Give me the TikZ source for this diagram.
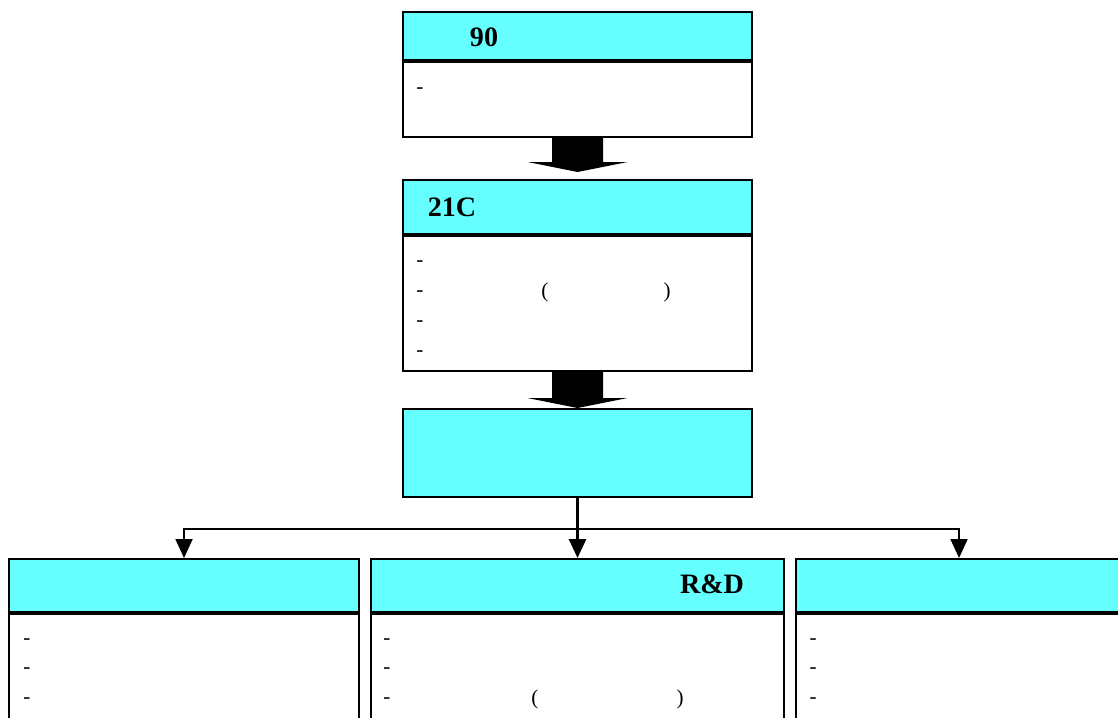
\documentclass[tikz,border=0pt]{standalone}
\usepackage{fontspec}
\setmainfont{Liberation Serif}
\usepackage{xcolor}
\definecolor{dnlam}{HTML}{66FFFF}
\def\maunen{dnlam}
\def\mauvien{black}
\usetikzlibrary{shapes,calc,arrows.meta}

\begin{document}
\begin{tikzpicture}[x=0.02cm,y=-0.02cm,line width=1.2pt,
	dau/.style={draw=\mauvien,fill=\maunen,anchor=north west,inner sep=0pt},
	than/.style={draw=\mauvien,fill=white,anchor=north west,inner sep=0pt},
	chudam/.style={font=\fontsize{16}{19}\selectfont\bfseries,inner sep=0pt},
	chu/.style={font=\fontsize{12}{14}\selectfont,inner sep=0pt},
	muiten/.style={-{Triangle[width=0.34cm,length=0.38cm]},line width=1.1pt}]
		\useasboundingbox (0,0) rectangle (1118,717);
		\clip (0,0) rectangle (1118,717);
		\path (402,11) node (d1) [dau,minimum width=6.98cm,minimum height=0.96cm] {};
		\path (d1.south west) node (k1) [than,minimum width=6.98cm,minimum height=1.5cm] {};
		\path (402,179) node (d2) [dau,minimum width=6.98cm,minimum height=1.08cm] {};
		\path (d2.south west) node (k2) [than,minimum width=6.98cm,minimum height=2.7cm] {};
		\path (402,408) node (o3) [dau,minimum width=6.98cm,minimum height=1.76cm] {};
		\path (8,558) node (hl) [dau,minimum width=7cm,minimum height=1.06cm] {}
		(370,558) node (hm) [dau,minimum width=8.26cm,minimum height=1.06cm] {}
		(795,558) node (hr) [dau,minimum width=6.52cm,minimum height=1.06cm] {};
		\path (hl.south west) node (bl) [than,minimum width=7cm,minimum height=3cm] {}
		(hm.south west) node (bm) [than,minimum width=8.26cm,minimum height=3cm] {}
		(hr.south west) node (br) [than,minimum width=6.52cm,minimum height=3cm] {};
		
		\fill[\mauvien] ($(k1.south)+(-25.5,0)$) -- ($(k1.south)+(25.5,0)$) -- ($(d2.north)+(25.5,-17)$) -- ($(d2.north)+(50,-17)$) -- ($(d2.north)+(0,-7)$) -- ($(d2.north)+(-50,-17)$) -- ($(d2.north)+(-25.5,-17)$) -- cycle;
		\fill[\mauvien] ($(k2.south)+(-25.5,0)$) -- ($(k2.south)+(25.5,0)$) -- ($(o3.north)+(25.5,-10)$) -- ($(o3.north)+(50,-10)$) -- (o3.north) -- ($(o3.north)+(-50,-10)$) -- ($(o3.north)+(-25.5,-10)$) -- cycle;
		
		\coordinate (re) at ($(o3.south)+(0,31)$);
		\draw[muiten,line width=1.6pt] (o3.south) -- (hm.north);
		\draw[muiten] (re) -| (hl.north);
		\draw[muiten] (re) -| (hr.north);
		
		\path (484,37) node (c1) [chudam] {90}
		(452,207) node (c2) [chudam] {21C}
		(712,584) node (c3) [chudam] {R\&D};
		\path (420,91) node (g1) [chu] {-}
		(420,264) node (g2) [chu] {-}
		(420,294) node (g3) [chu] {-}
		(420,324) node (g4) [chu] {-}
		(420,354) node (g5) [chu] {-}
		(545,292) node (p1) [chu] {(}
		(667,292) node (p2) [chu] {)}
		(27,642) node (g6) [chu] {-}
		(27,671) node (g7) [chu] {-}
		(27,701) node (g8) [chu] {-}
		(387,642) node (g9) [chu] {-}
		(387,671) node (g10) [chu] {-}
		(387,701) node (g11) [chu] {-}
		(535,699) node (p3) [chu] {(}
		(680,699) node (p4) [chu] {)}
		(813,642) node (g12) [chu] {-}
		(813,671) node (g13) [chu] {-}
		(813,701) node (g14) [chu] {-};
		
	\end{tikzpicture}
\end{document}
